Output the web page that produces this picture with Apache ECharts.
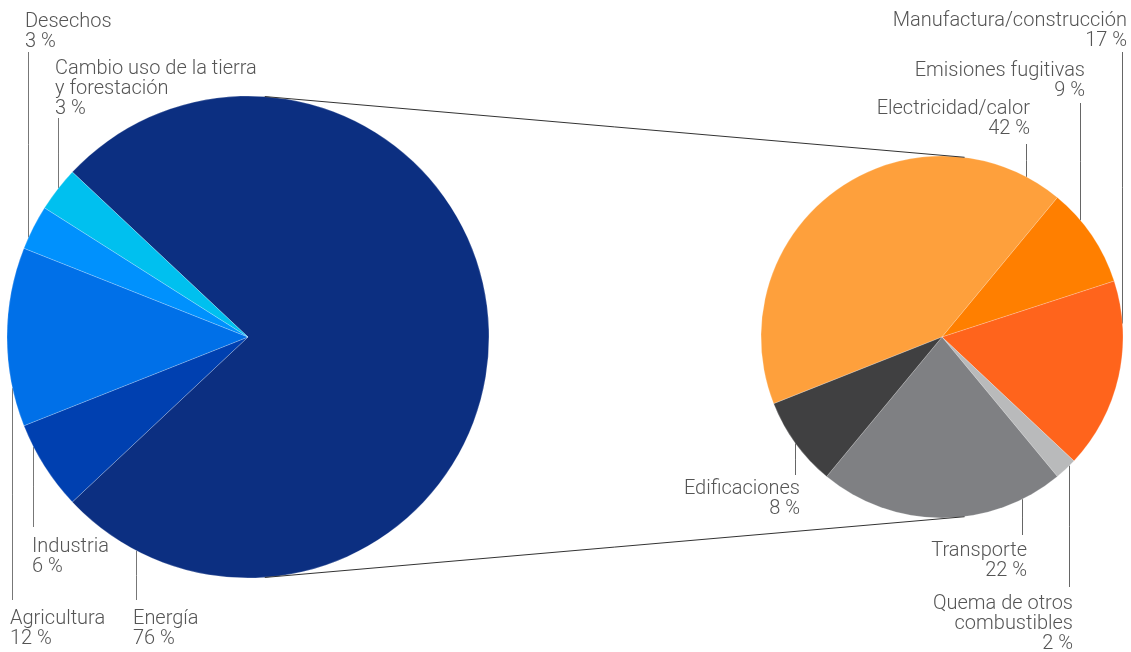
<!DOCTYPE html>
<html>
<head>
<meta charset="utf-8">
<script src="https://cdn.jsdelivr.net/npm/echarts@6/dist/echarts.min.js"></script>
<style>
html,body{margin:0;padding:0;background:#fff;}
#chart{width:1131px;height:652px;}
</style>
</head>
<body>
<div id="chart"></div>
<script>
// ---- data ----
const mainCategories = ['Energía', 'Industria', 'Agricultura', 'Desechos', 'Cambio uso de la tierra\ny forestación'];
const mainValues = [76, 6, 12, 3, 3];
const energyCategories = ['Electricidad/calor', 'Emisiones fugitivas', 'Manufactura/construcción', 'Quema de otros\ncombustibles', 'Transporte', 'Edificaciones'];
const energyValues = [42, 9, 17, 2, 22, 8];

// ---- style / layout ----
const mainColors = ['#0c2f81', '#0040b0', '#0070e8', '#0091fd', '#00c0ef'];
const energyColors = ['#fea03c', '#ff7f00', '#ff641c', '#b9babb', '#7f8083', '#404041'];
const L = { cx: 248, cy: 337, r: 241 };
const R = { cx: 942, cy: 337, r: 181 };
// label placement: lx = x of leader line, tx/ty = text anchor, align, side (above/below the pie), end = y where leader line stops
const mainLabelPos = [
  { lx: 136.5, tx: 133, ty: 609, align: 'left', side: 'below', end: 600 },
  { lx: 33.5, tx: 32, ty: 537, align: 'left', side: 'below', end: 527 },
  { lx: 12.5, tx: 10, ty: 609, align: 'left', side: 'below', end: 600 },
  { lx: 28.5, tx: 25, ty: 52, align: 'left', side: 'above', end: 52 },
  { lx: 58.5, tx: 55, ty: 119, align: 'left', side: 'above', end: 118 }
];
const energyLabelPos = [
  { lx: 1026.5, tx: 1030, ty: 139, align: 'right', side: 'above', end: 144 },
  { lx: 1080.5, tx: 1085, ty: 101, align: 'right', side: 'above', end: 103 },
  { lx: 1122.5, tx: 1127, ty: 51, align: 'right', side: 'above', end: 52 },
  { lx: 1069.5, tx: 1073, ty: 593.5, align: 'right', side: 'below', end: 587 },
  { lx: 1022.5, tx: 1027, ty: 541, align: 'right', side: 'below', end: 535 },
  { lx: 795.5, tx: 800, ty: 479, align: 'right', side: 'below', end: 475 }
];

const chart = echarts.init(document.getElementById('chart'), null, { renderer: 'canvas' });

function makeLayout(geo, posArr) {
  return function (params) {
    const p = posArr[params.dataIndex];
    const dx = p.lx - geo.cx;
    const h = Math.sqrt(Math.max(0, geo.r * geo.r - dx * dx));
    const edgeY = p.side === 'above' ? geo.cy - h : geo.cy + h;
    return {
      x: p.tx,
      y: p.ty,
      align: p.align,
      verticalAlign: p.side === 'above' ? 'bottom' : 'top',
      labelLinePoints: [[p.lx, edgeY], [p.lx, (edgeY + p.end) / 2], [p.lx, p.end]]
    };
  };
}

const labelStyle = {
  show: true,
  position: 'outside',
  formatter: '{b}\n{c} %',
  color: '#555',
  fontFamily: 'Roboto',
  fontWeight: 300,
  fontSize: 20,
  lineHeight: 20
};

const sumMain = mainValues.reduce((a, b) => a + b, 0);

// connecting tangent lines between the two pies
function tangentLines() {
  const d = R.cx - L.cx;
  const s = (L.r - R.r) / d;
  const c = Math.sqrt(1 - s * s);
  const lines = [];
  [-1, 1].forEach(sg => {
    const nx = s, ny = sg * c;
    const x1 = L.cx + L.r * nx, y1 = L.cy + L.r * ny;
    let x2 = R.cx + R.r * nx, y2 = R.cy + R.r * ny;
    const len = Math.hypot(x2 - x1, y2 - y1);
    x2 += (x2 - x1) / len * 7; y2 += (y2 - y1) / len * 7;
    lines.push({
      type: 'line', z: 10,
      shape: { x1: x1 - (x2 - x1) / len * 4, y1: y1 - (y2 - y1) / len * 4, x2: x2, y2: y2 },
      style: { stroke: '#333', lineWidth: 1 }
    });
  });
  return lines;
}

const option = {
  animation: false,
  backgroundColor: '#fff',
  graphic: tangentLines(),
  series: [
    {
      type: 'pie',
      center: [L.cx, L.cy],
      radius: [0, L.r],
      startAngle: mainValues[0] / sumMain * 180,
      clockwise: true,
      avoidLabelOverlap: false,
      data: mainCategories.map((n, i) => ({ name: n, value: mainValues[i], itemStyle: { color: mainColors[i] } })),
      itemStyle: { borderColor: 'rgba(255,255,255,0.35)', borderWidth: 0.6 },
      label: labelStyle,
      labelLine: { show: true, length: 5, length2: 5, lineStyle: { color: '#777', width: 1 } },
      labelLayout: makeLayout(L, mainLabelPos),
      emphasis: { disabled: true }
    },
    {
      type: 'pie',
      center: [R.cx, R.cy],
      radius: [0, R.r],
      startAngle: 201.6,
      clockwise: true,
      avoidLabelOverlap: false,
      data: energyCategories.map((n, i) => ({ name: n, value: energyValues[i], itemStyle: { color: energyColors[i] } })),
      itemStyle: { borderColor: 'rgba(255,255,255,0.35)', borderWidth: 0.6 },
      label: labelStyle,
      labelLine: { show: true, length: 5, length2: 5, lineStyle: { color: '#666', width: 1 } },
      labelLayout: makeLayout(R, energyLabelPos),
      emphasis: { disabled: true }
    }
  ]
};
chart.setOption(option);
</script>
</body>
</html>
